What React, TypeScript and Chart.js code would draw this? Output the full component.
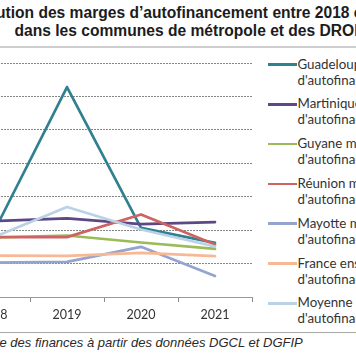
import React, { useEffect, useRef } from "react";
import { Chart, registerables } from "chart.js";

Chart.register(...registerables);

// ---- Data ----
const years = ["2018", "2019", "2020", "2021"];
const guadeloupe = [9.5, 31.4, 10.35, 8.1];
const martinique = [11.35, 11.75, 10.9, 11.2];
const guyane = [8.9, 9.2, 8.15, 7.2];
const reunion = [8.95, 8.95, 12.35, 7.85];
const mayotte = [5.15, 5.25, 7.5, 3.15];
const franceEnsemble = [6.2, 6.15, 6.6, 6.1];
const moyenneDrom = [8.9, 13.45, 10.1, 7.55];

const seriesNames = [
  "Guadeloupe marges",
  "Martinique marges",
  "Guyane marges",
  "Réunion marges",
  "Mayotte marges",
  "France ensemble marges",
  "Moyenne DROM marges",
];
const seriesSecondLine = "d'autofinancement";
const seriesValues = [guadeloupe, martinique, guyane, reunion, mayotte, franceEnsemble, moyenneDrom];
const seriesColors = ["#31808F", "#5E4785", "#9BBB59", "#CD6462", "#94A4CF", "#F7B995", "#B9D2E5"];

const yMin = 0;
const yMax = 35;
const yStep = 5;

const titleLine1Prefix = "Évolu";
const titleLine1 = "tion des marges d’autofinancement entre 2018 et 2021";
const titleLine2 = "dans les communes de métropole et des DROM";
const sourcePrefix = "Source : Observatoir";
const sourceRest = "e des finances à partir des données DGCL et DGFIP";

export default function App() {
  const canvasRef = useRef<HTMLCanvasElement | null>(null);

  useEffect(() => {
    const canvas = canvasRef.current;
    if (!canvas) return;
    const chart = new Chart(canvas, {
      type: "line",
      data: {
        labels: years,
        datasets: seriesValues.map((vals, i) => ({
          label: seriesNames[i] + " " + seriesSecondLine,
          data: vals,
          borderColor: seriesColors[i],
          backgroundColor: seriesColors[i],
          borderWidth: 2.7,
          pointRadius: 0,
          pointHoverRadius: 0,
          tension: 0,
          fill: false,
          borderJoinStyle: "round" as const,
          borderCapStyle: "round" as const,
          order: seriesValues.length - i,
        })),
      },
      options: {
        responsive: false,
        animation: false,
        events: [],
        layout: { padding: { left: 0, right: 4, top: 13, bottom: 0 } },
        plugins: {
          legend: { display: false },
          title: { display: false },
          tooltip: { enabled: false },
        },
        scales: {
          x: {
            offset: true,
            grid: {
              display: true,
              drawOnChartArea: false,
              drawTicks: true,
              tickLength: 5,
              color: "#8c8c8c",
              offset: true,
            },
            border: { display: true, color: "#9a9a9a", width: 1 },
            ticks: {
              color: "#333333",
              font: { family: "Lato", size: 12.5 },
              padding: 5,
              maxRotation: 0,
              autoSkip: false,
            },
            afterFit: (s: any) => {
              s.height = 30;
            },
          },
          y: {
            min: yMin,
            max: yMax,
            ticks: { display: false, stepSize: yStep },
            grid: { color: "#858585", lineWidth: 1, drawTicks: false },
            border: { display: false, dash: [2, 1] },
            afterFit: (s: any) => {
              s.width = 0;
            },
          },
        },
      },
    });
    return () => chart.destroy();
  }, []);

  const legendTop = 64.5;
  const legendGap = 39.8;

  const titleStyle: React.CSSProperties = {
    position: "absolute",
    fontFamily: "'Liberation Sans', Arial, sans-serif",
    fontWeight: "bold",
    lineHeight: "18px",
    color: "#1c1c1c",
    whiteSpace: "nowrap",
  };

  return (
    <div
      style={{
        position: "fixed",
        left: 0,
        top: 0,
        width: 356,
        height: 364,
        overflow: "hidden",
        background: "#ffffff",
      }}
    >
      {/* Title */}
      <div style={{ ...titleStyle, left: 5.5, top: 4, fontSize: 15.6 }}>
        <span style={{ position: "absolute", right: "100%", top: 0 }}>{titleLine1Prefix}</span>
        {titleLine1}
      </div>
      <div style={{ ...titleStyle, left: 14.5, top: 22, fontSize: 15.6 }}>{titleLine2}</div>
      <div style={{ position: "absolute", left: 0, top: 46, width: 356, height: 2, background: "#cfcfcf" }} />

      {/* Chart */}
      <div style={{ position: "absolute", left: -44, top: 50, width: 300, height: 277 }}>
        <canvas ref={canvasRef} width={300} height={277} style={{ width: 300, height: 277, display: "block" }} />
      </div>

      {/* Legend */}
      {seriesNames.map((name, i) => {
        const y = legendTop + legendGap * i;
        return (
          <React.Fragment key={name}>
            <div
              style={{
                position: "absolute",
                left: 268,
                top: y - 1.3,
                width: 29,
                height: 2.6,
                background: seriesColors[i],
              }}
            />
            <div
              style={{
                position: "absolute",
                left: 297.5,
                top: y - 9,
                fontFamily: "Lato, 'Open Sans', sans-serif",
                fontSize: 13.3,
                lineHeight: "16px",
                color: "#333333",
                whiteSpace: "nowrap",
              }}
            >
              <div>{name}</div>
              <div>{seriesSecondLine}</div>
            </div>
          </React.Fragment>
        );
      })}

      {/* Bottom rule and source */}
      <div style={{ position: "absolute", left: 0, top: 331.5, width: 356, height: 1.5, background: "#a8a8a8" }} />
      <div
        style={{
          position: "absolute",
          left: -0.5,
          top: 334.5,
          fontFamily: "'Liberation Sans', Arial, sans-serif",
          fontStyle: "italic",
          fontSize: 13,
          lineHeight: "15px",
          color: "#2a2a2a",
          whiteSpace: "nowrap",
        }}
      >
        <span style={{ position: "absolute", right: "100%", top: 0 }}>{sourcePrefix}</span>
        {sourceRest}
      </div>
    </div>
  );
}
